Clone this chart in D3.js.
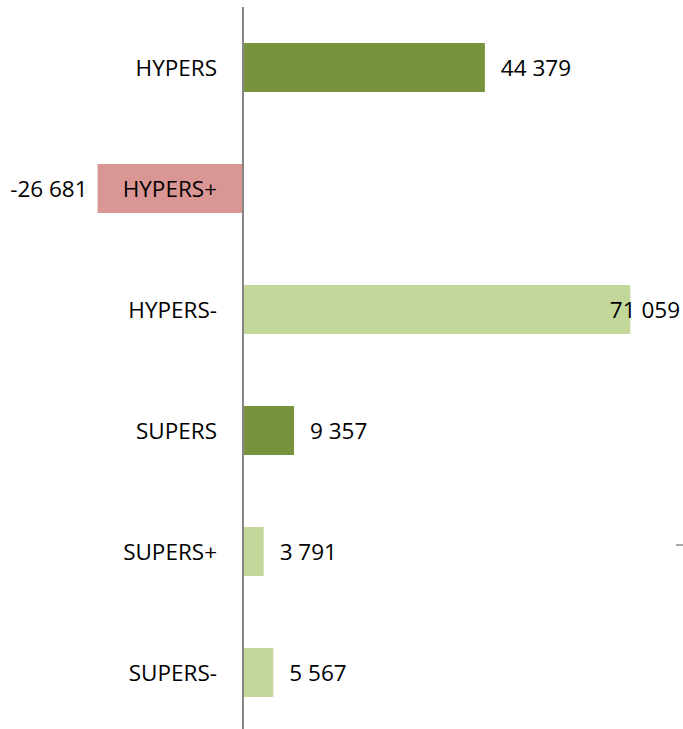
<!DOCTYPE html>
<html>
<head>
<meta charset="utf-8">
<script src="https://cdn.jsdelivr.net/npm/d3@7/dist/d3.min.js"></script>
<style>
  body { margin: 0; background: #fff; }
  text { font-family: "Open Sans", sans-serif; font-size: 22.5px; fill: #000; }
</style>
</head>
<body>
<div id="chart"></div>
<script>
// data
const categories = ["HYPERS", "HYPERS+", "HYPERS-", "SUPERS", "SUPERS+", "SUPERS-"];
const values = [44379, -26681, 71059, 9357, 3791, 5567];
const barColors = ["#77933C", "#D99694", "#C4D79B", "#77933C", "#C4D79B", "#C4D79B"];
const xDomain = [-40000, 80000];

const width = 683, height = 729;

const svg = d3.select("#chart")
    .append("svg")
    .attr("width", width)
    .attr("height", height);

const x = d3.scaleLinear()
    .domain(xDomain)
    .range([25, 679]);

const y = d3.scaleBand()
    .domain(categories)
    .range([7, 733])
    .paddingInner(0.595)
    .paddingOuter(0.2975);

const fmt = v => d3.format(",")(v).replace(/,/g, " ").replace("−", "-");

const rows = categories.map((c, i) => ({ cat: c, val: values[i], color: barColors[i] }));

// bars
svg.selectAll(".bar")
    .data(rows)
    .enter()
    .append("rect")
    .attr("class", "bar")
    .attr("x", d => x(Math.min(0, d.val)))
    .attr("y", d => y(d.cat))
    .attr("width", d => Math.abs(x(d.val) - x(0)))
    .attr("height", y.bandwidth())
    .attr("fill", d => d.color);

// vertical axis line at zero
svg.append("line")
    .attr("x1", x(0)).attr("x2", x(0))
    .attr("y1", y.range()[0]).attr("y2", y.range()[1])
    .attr("stroke", "#868686")
    .attr("stroke-width", 2);

// small stray tick on the right
svg.append("line")
    .attr("x1", x(xDomain[1]) - 3).attr("x2", width)
    .attr("y1", y("SUPERS+") + y.bandwidth() / 2 - 6.5)
    .attr("y2", y("SUPERS+") + y.bandwidth() / 2 - 6.5)
    .attr("stroke", "#8a8a8a")
    .attr("stroke-width", 1.5);

// category labels
svg.selectAll(".cat-label")
    .data(rows)
    .enter()
    .append("text")
    .attr("class", "cat-label")
    .attr("x", x(0) - 26)
    .attr("y", d => y(d.cat) + y.bandwidth() / 2)
    .attr("dy", "0.36em")
    .attr("text-anchor", "end")
    .text(d => d.cat);

// value labels
const vl = svg.selectAll(".val-label")
    .data(rows)
    .enter()
    .append("text")
    .attr("class", "val-label")
    .attr("y", d => y(d.cat) + y.bandwidth() / 2)
    .attr("dy", "0.36em")
    .attr("text-anchor", d => d.val < 0 ? "end" : "start")
    .text(d => fmt(d.val));

vl.attr("x", function (d) {
    if (d.val < 0) return x(d.val) - 10;
    const w = this.getComputedTextLength();
    return Math.min(x(d.val) + 16, width - 3 - w);
});
</script>
</body>
</html>
